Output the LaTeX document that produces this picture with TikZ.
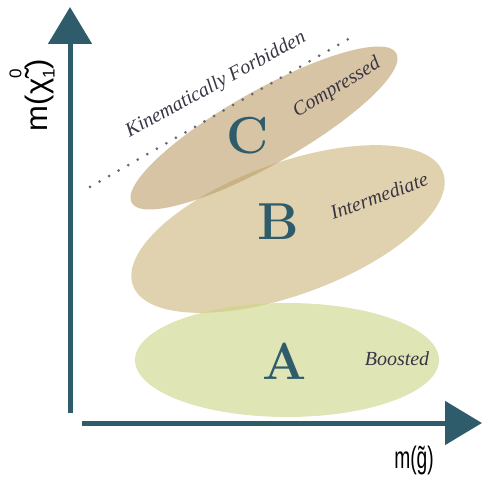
\documentclass[tikz,border=0pt]{standalone}
\usepackage{fontspec}
\usetikzlibrary{shapes.geometric,arrows.meta}
\newfontfamily\axisfont{Liberation Sans}
\newfontfamily\tagfont{Liberation Serif}
\newcommand{\smallidx}{\fontsize{17}{17}\selectfont}
\definecolor{axisteal}{RGB}{47,92,106}
\definecolor{labelgray}{RGB}{58,52,68}
\definecolor{dotgray}{RGB}{105,105,105}
\definecolor{boostgreen}{RGB}{203,212,132}
\definecolor{midtan}{RGB}{203,180,120}
\definecolor{comptan}{RGB}{187,157,105}
\begin{document}
\begin{tikzpicture}[x=1pt, y=1pt,
	region/.style={ellipse, fill=#1, fill opacity=0.6, inner sep=0pt},
	letter/.style={text=axisteal, font=\fontsize{52}{52}\selectfont\bfseries},
	tag/.style={text=labelgray, font=\tagfont\fontsize{20}{20}\selectfont\itshape},
	axislabel/.style={text=black, font=\axisfont\fontsize{31}{31}\selectfont},
	axisline/.style={axisteal, line width=5pt, -{Triangle[width=43pt,length=37pt]}}]
				\useasboundingbox (0,0) rectangle (482,477);
				% the three regions
				\node[region=midtan, minimum width=330pt, minimum height=132pt, rotate=20] (regB) at (288,248) {};
				\node[region=comptan, minimum width=304pt, minimum height=74pt, rotate=29.5] (regC) at (264,349) {};
				\node[region=boostgreen, minimum width=304pt, minimum height=114pt] (regA) at (287,117) {};
				\node[letter] (letA) at (285,116) {A};
				\node[letter] (letB) at (278,255) {B};
				\node[letter] (letC) at (248,341) {C};
				\node[tag] (boosted) at (397,118) {Boosted};
				\node[tag, rotate=20] (inter) at (379,281) {Intermediate};
				\node[tag, rotate=31] (compr) at (337,389) {Compressed};
				% kinematic limit
				\coordinate (dotS) at (90,290);
				\coordinate (dotE) at (352,440);
				\draw[dotgray, line width=3pt, line cap=round, dash pattern=on 0pt off 11pt] (dotS) -- (dotE);
				\node[tag, rotate=28.5] (forbid) at (216,392) {Kinematically Forbidden};
				% axes
				\coordinate (yfoot) at (70,64);
				\coordinate (ytip) at (70,470);
				\coordinate (xfoot) at (82,54);
				\coordinate (xtip) at (482,54);
				\draw[axisline] (yfoot) -- (ytip);
				\draw[axisline] (xfoot) -- (xtip);
				\node[axislabel, rotate=90] (ylab) at (32,382) {m(χ̃\rlap{\raisebox{0.84em}{\smallidx 0}}\raisebox{-0.23em}{\smallidx 1})};
				\node[axislabel, xscale=0.62] (xlab) at (414,17) {m(g̃)};
				\end{tikzpicture}
\end{document}
